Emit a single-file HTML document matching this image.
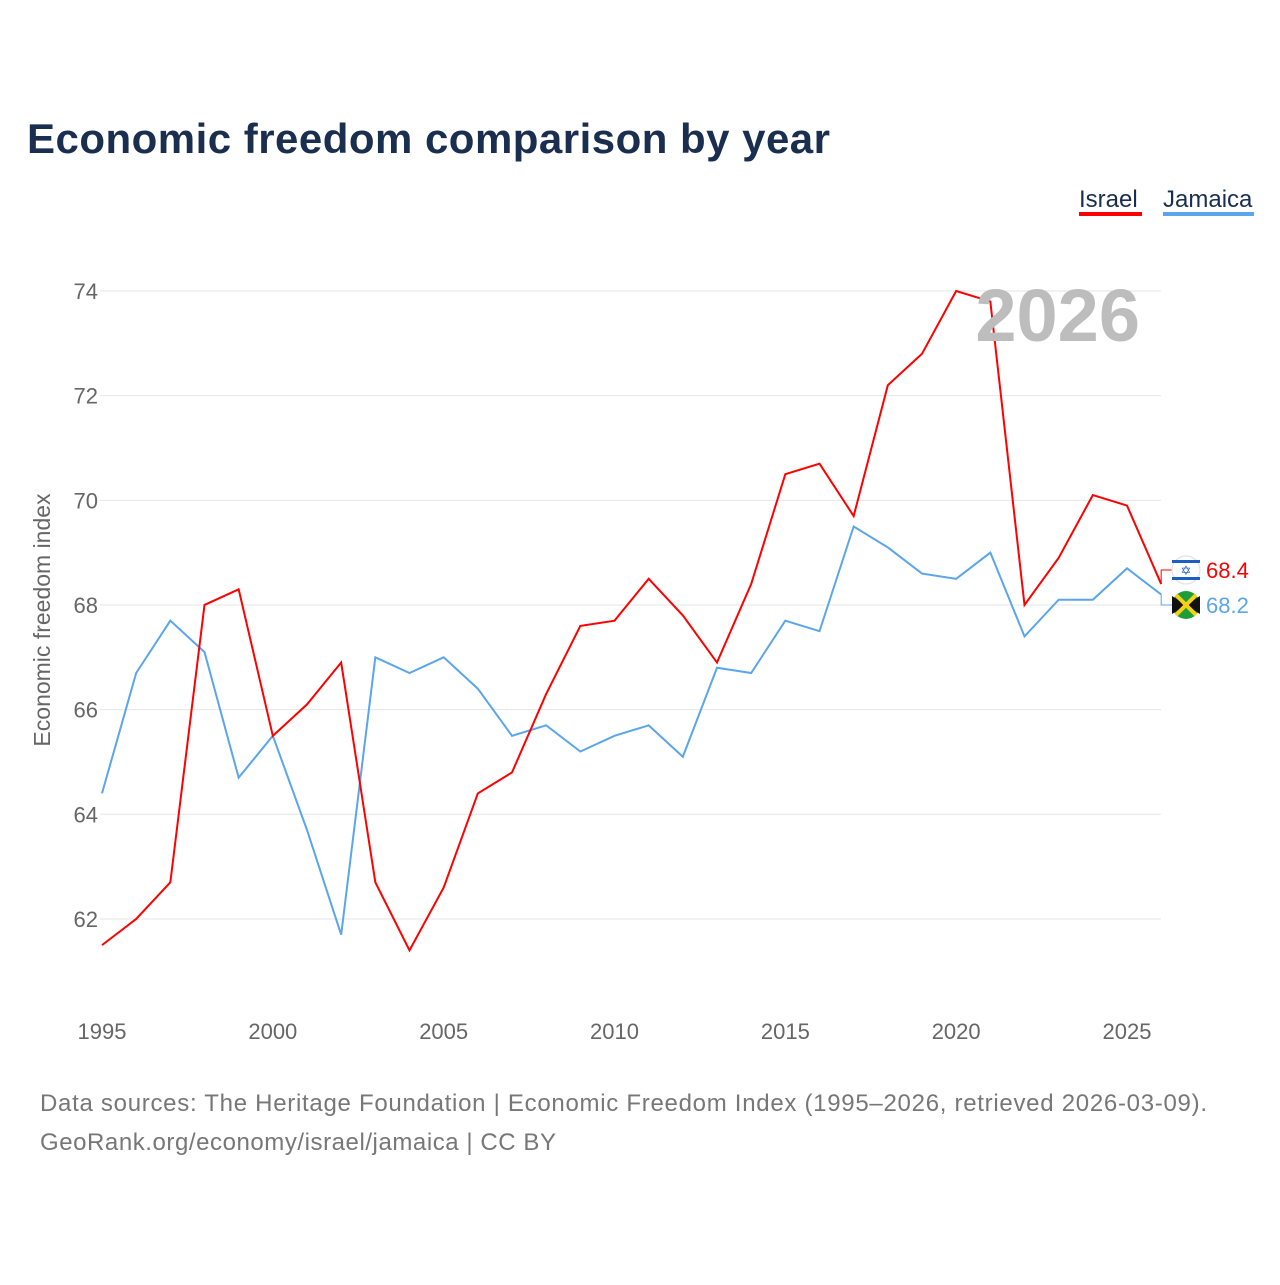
<!DOCTYPE html>
<html><head><meta charset="utf-8"><style>
body{margin:0;background:#fff;font-family:"Liberation Sans",sans-serif}
</style></head><body>
<svg id="c" width="1280" height="1280" xmlns="http://www.w3.org/2000/svg">
<text x="27" y="153" font-size="42" font-weight="bold" fill="#1a2e4f" textLength="803">Economic freedom comparison by year</text>
<g><text x="1079" y="207" font-size="24" fill="#1a2e4f">Israel</text><rect x="1079" y="212" width="63" height="4" fill="#f00"/></g>
<g><text x="1163" y="207" font-size="24" fill="#1a2e4f">Jamaica</text><rect x="1163" y="212" width="91" height="4" fill="#5aa5ec"/></g>
<text transform="translate(50,620) rotate(-90)" font-size="23" fill="#666" text-anchor="middle">Economic freedom index</text>
<g id="grid"></g><g id="xt"></g><g id="lines"></g><g id="ends"></g>
<text x="1140" y="341" font-size="74" font-weight="bold" fill="#bdbdbd" text-anchor="end">2026</text>
<text x="40" y="1111" font-size="24" fill="#777" textLength="1167">Data sources: The Heritage Foundation | Economic Freedom Index (1995–2026, retrieved 2026-03-09).</text>
<text x="40" y="1150" font-size="24" fill="#777" textLength="516">GeoRank.org/economy/israel/jamaica | CC BY</text>
</svg>
<script>
const years=[1995,1996,1997,1998,1999,2000,2001,2002,2003,2004,2005,2006,2007,2008,2009,2010,2011,2012,2013,2014,2015,2016,2017,2018,2019,2020,2021,2022,2023,2024,2025,2026];
const israel=[61.5,62.0,62.7,68.0,68.3,65.5,66.1,66.9,62.7,61.4,62.6,64.4,64.8,66.3,67.6,67.7,68.5,67.8,66.9,68.4,70.5,70.7,69.7,72.2,72.8,74.0,73.8,68.0,68.9,70.1,69.9,68.4];
const jamaica=[64.4,66.7,67.7,67.1,64.7,65.5,63.7,61.7,67.0,66.7,67.0,66.4,65.5,65.7,65.2,65.5,65.7,65.1,66.8,66.7,67.7,67.5,69.5,69.1,68.6,68.5,69.0,67.4,68.1,68.1,68.7,68.2];
const yTicks=[62,64,66,68,70,72,74];
const xTicks=[1995,2000,2005,2010,2015,2020,2025];
const NS="http://www.w3.org/2000/svg";
const X=y=>102+(y-1995)*34.167, Y=v=>291+(74-v)*52.33;
function mk(t,a,p){const e=document.createElementNS(NS,t);for(const k in a)e.setAttribute(k,a[k]);document.getElementById(p).appendChild(e);return e;}
yTicks.forEach(v=>{
 const l=mk('line',{x1:100,x2:1161,y1:Y(v),y2:Y(v),stroke:'#e6e6e6'},'grid');
 
 
 const t=mk('text',{x:98,y:Y(v)+8,'font-size':22,fill:'#666','text-anchor':'end'},'grid');t.textContent=v;
 
 
});
xTicks.forEach(v=>{
 const t=mk('text',{x:X(v),y:1039,'font-size':22,fill:'#666','text-anchor':'middle'},'xt');t.textContent=v;
 
 
});
function line(d,c,n){
 const p=mk('polyline',{points:d.map((v,i)=>X(years[i])+','+Y(v)).join(' '),fill:'none',stroke:c,'stroke-width':2},'lines');
 
 
}
line(jamaica,'#5aa5ec','jamaica-line');line(israel,'#f00','israel-line');
const last=years.length-1;
function end(d,c,fy,n,flag){
 const y=Y(d[last]);
 mk('polyline',{points:`${X(2026)},${y} ${X(2026)},${fy} 1172,${fy}`,fill:'none',stroke:c,'stroke-width':1},'ends');
 const g=mk('g',{},'ends');
 
 
 flag(g,1186,fy);
 const t=mk('text',{x:1206,y:fy+8,'font-size':22,fill:c},'ends');t.textContent=d[last].toFixed(1);
 
 
}
end(israel,'#f00',570,'israel',(g,x,y)=>{
 g.innerHTML=`<circle cx="${x}" cy="${y}" r="14" fill="#fff" stroke="#ddd"/><rect x="${x-14}" y="${y-10}" width="28" height="3" fill="#1c5fc2"/><rect x="${x-14}" y="${y+7}" width="28" height="3" fill="#1c5fc2"/><text x="${x}" y="${y+5}" font-size="13" fill="#1c5fc2" text-anchor="middle">✡</text>`;
});
end(jamaica,'#5aa5ec',605,'jamaica',(g,x,y)=>{
 g.innerHTML=`<circle cx="${x}" cy="${y}" r="14" fill="#1e9e3a"/><path d="M${x-14},${y-9} L${x},${y} L${x-14},${y+9}Z M${x+14},${y-9} L${x},${y} L${x+14},${y+9}Z" fill="#111"/><path d="M${x-10},${y-10} L${x+10},${y+10} M${x+10},${y-10} L${x-10},${y+10}" stroke="#f7d117" stroke-width="4"/>`;
});
</script>
</body></html>
